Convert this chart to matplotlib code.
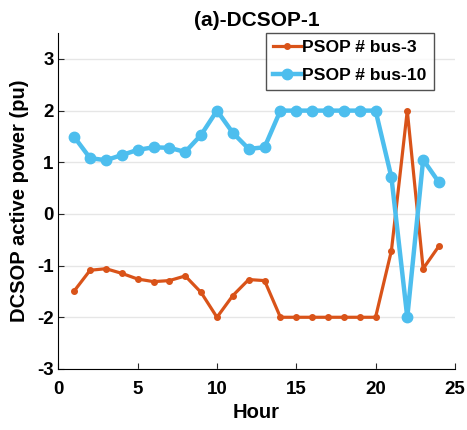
import numpy as np
import matplotlib.pyplot as plt

plt.rcParams['font.family'] = ['Liberation Sans', 'DejaVu Sans']
plt.rcParams['font.weight'] = 'bold'
plt.rcParams['axes.unicode_minus'] = False

hours = np.arange(1, 25)
psop_bus3 = [-1.49, -1.09, -1.06, -1.15, -1.26, -1.31, -1.29, -1.20, -1.52, -2.0,
             -1.58, -1.27, -1.29, -2.0, -2.0, -2.0, -2.0, -2.0, -2.0, -2.0,
             -0.71, 2.0, -1.06, -0.62]
psop_bus10 = [1.49, 1.08, 1.04, 1.14, 1.24, 1.29, 1.28, 1.20, 1.53, 2.0,
              1.57, 1.26, 1.29, 2.0, 2.0, 2.0, 2.0, 2.0, 2.0, 2.0,
              0.71, -2.0, 1.05, 0.61]

fig = plt.figure(figsize=(4.67, 4.30), dpi=100)
ax = fig.add_axes([0.125, 0.142, 0.849, 0.781])

ax.plot(hours, psop_bus3, color='#D95319', lw=2.3, marker='o', ms=4,
        label='PSOP # bus-3')
ax.plot(hours, psop_bus10, color='#4DBEEE', lw=3.2, marker='o', ms=7.5,
        label='PSOP # bus-10')

ax.set_xlim(0, 25)
ax.set_ylim(-3, 3.5)
ax.set_xticks([0, 5, 10, 15, 20, 25])
ax.set_yticks([-3, -2, -1, 0, 1, 2, 3])
ax.yaxis.grid(True, color='#e6e6e6', lw=1)
ax.set_axisbelow(True)
ax.spines['top'].set_visible(False)
ax.spines['right'].set_visible(False)
ax.tick_params(direction='in', labelsize=13.5, length=4, color='#262626')
ax.tick_params(axis='x', pad=9)
for lab in ax.get_xticklabels() + ax.get_yticklabels():
    lab.set_fontweight('bold')

ax.set_xlabel('Hour', fontsize=14.5, fontweight='bold', labelpad=3)
ax.set_ylabel('DCSOP active power (pu)', fontsize=14.5, fontweight='bold',
              labelpad=6)
ax.set_title('(a)-DCSOP-1', fontsize=15, fontweight='bold', pad=5)

leg = ax.legend(loc='upper right', bbox_to_anchor=(0.947, 1.0), fontsize=12.6,
                frameon=True, fancybox=False, edgecolor='#262626',
                handlelength=1.6, handletextpad=0.1, borderpad=0.4,
                labelspacing=0.7, borderaxespad=0)
leg.get_frame().set_linewidth(1)
for t in leg.get_texts():
    t.set_fontweight('bold')

fig.savefig('out.png', dpi=100)
